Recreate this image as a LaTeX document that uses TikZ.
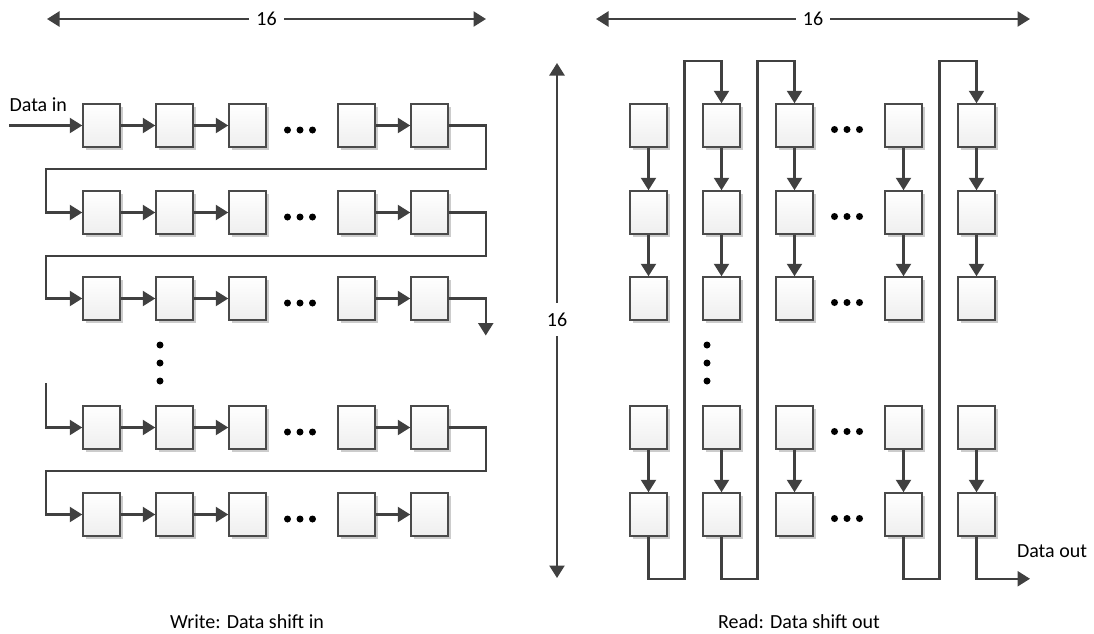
\documentclass[tikz,border=0pt]{standalone}
\usepackage{fontspec}
\setmainfont{Carlito}
\usetikzlibrary{arrows.meta,shadows,calc}

\definecolor{linegray}{HTML}{404040}
\definecolor{boxgray}{HTML}{4A4A4A}

\begin{document}
\begin{tikzpicture}[x=1pt,y=-1pt,
    font=\fontsize{20}{24}\selectfont,
    cell/.style={draw=boxgray,line width=1.5pt,top color=white,bottom color=gray!13,
        minimum width=37pt,minimum height=43pt,inner sep=0pt,
        drop shadow={shadow xshift=3pt,shadow yshift=-3pt,fill=gray!40,opacity=1}},
    wire/.style={draw=linegray,line width=2.4pt},
    flow/.style={wire,-{Triangle[length=12.5pt,width=15pt]}},
    dim/.style={wire,{Triangle[length=12.5pt,width=15pt]}-{Triangle[length=12.5pt,width=15pt]}},
    size/.style={fill=white,inner sep=7pt}]
\useasboundingbox (0,0) rectangle (1094,633);

% write side
\foreach \c/\x in {1/101.5,2/174.5,3/247.5,4/356.5,5/429.5}
  \foreach \r/\y in {1/125.5,2/212.5,3/298.5,4/427.5,5/514.5}
    \node[cell] (w\r-\c) at (\x,\y) {};

% read side
\foreach \c/\x in {1/648.5,2/721.5,3/794.5,4/903.5,5/976.5}
  \foreach \r/\y in {1/125.5,2/212.5,3/298.5,4/427.5,5/514.5}
    \node[cell] (rd\r-\c) at (\x,\y) {};

% shift along the rows
\foreach \r in {1,...,5} {
  \draw[flow] (w\r-1) -- (w\r-2);
  \draw[flow] (w\r-2) -- (w\r-3);
  \draw[flow] (w\r-4) -- (w\r-5);
  \foreach \d in {-12.5,0,12.5} {
    \fill ($(w\r-3)!0.5!(w\r-4)+(\d-2,4.5)$) circle[radius=3.5pt];
    \fill ($(rd\r-3)!0.5!(rd\r-4)+(\d-2,4)$) circle[radius=3.5pt];
  }
}
\foreach \d in {345,363,381} {
  \fill ($(w1-2)+(-14.5,0)$) ++(0,\d-125.5) circle[radius=3.5pt];
  \fill ($(rd1-2)+(-14.5,0)$) ++(0,\d-125.5) circle[radius=3.5pt];
}

\coordinate (din) at ($(w1-1.west)+(-73,0)$);
\draw[flow] (din) -- (w1-1);
\node (dinlabel) at ($(din)+(29,-21)$) {Data in};
\draw[flow] (w1-5) -| ($(w1-5.east)+(37,43.5)$) -| ($(w2-1.west)+(-36,0)$) -- (w2-1);
\draw[flow] (w2-5) -| ($(w2-5.east)+(37,43.5)$) -| ($(w3-1.west)+(-36,0)$) -- (w3-1);
\coordinate (wout) at ($(w3-5.east)+(37,37)$);
\draw[flow] (w3-5) -| (wout);
\coordinate (win) at ($(w4-1.west)+(-36,-44.5)$);
\draw[flow] (win) |- (w4-1);
\draw[flow] (w4-5) -| ($(w4-5.east)+(37,43.5)$) -| ($(w5-1.west)+(-36,0)$) -- (w5-1);

% shift down the columns
\foreach \c in {1,...,5} {
  \draw[flow] (rd1-\c) -- (rd2-\c);
  \draw[flow] (rd2-\c) -- (rd3-\c);
  \draw[flow] (rd4-\c) -- (rd5-\c);
}
\draw[flow] (rd5-1) |- ($(rd5-1.south)+(36,42)$) |- ($(rd1-2.north)+(0,-42)$) -- (rd1-2);
\draw[flow] (rd5-2) |- ($(rd5-2.south)+(36,42)$) |- ($(rd1-3.north)+(0,-42)$) -- (rd1-3);
\draw[flow] (rd5-4) |- ($(rd5-4.south)+(36,42)$) |- ($(rd1-5.north)+(0,-42)$) -- (rd1-5);
\coordinate (dout) at ($(rd5-5.south)+(53.5,42)$);
\draw[flow] (rd5-5) |- (dout);
\node (doutlabel) at ($(dout)+(22,-28)$) {Data out};

% sizes
\coordinate (wl) at (47,19);
\coordinate (wr) at (486,19);
\draw[dim] (wl) -- (wr) node[midway,size] (wsize) {16};
\coordinate (rl) at (596,19);
\coordinate (rr) at (1030,19);
\draw[dim] (rl) -- (rr) node[midway,size] (rsize) {16};
\coordinate (vt) at (557,63);
\coordinate (vb) at (557,578);
\draw[dim] (vt) -- (vb) node[pos=0.498,size,inner sep=10pt] (vsize) {16};

\node (wcap) at (247,622) {Write: Data shift in};
\node (rcap) at (799,622) {Read: Data shift out};
\end{tikzpicture}
\end{document}
